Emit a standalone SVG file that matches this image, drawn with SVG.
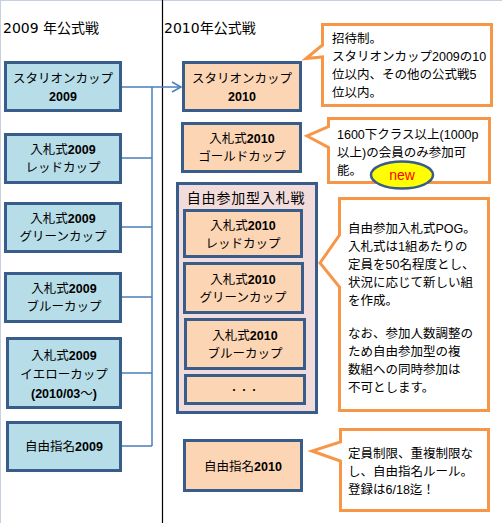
<svg xmlns="http://www.w3.org/2000/svg" width="502" height="523" viewBox="0 0 502 523">
<defs>
<style>
text{font-family:"Noto Sans CJK JP","Liberation Sans",sans-serif;font-size:12.5px;fill:#000}
.c{text-anchor:middle}
.d{font-family:"Liberation Sans","Noto Sans CJK JP",sans-serif;font-weight:bold;font-size:12.5px}
.n{font-family:"Liberation Sans","Noto Sans CJK JP",sans-serif;font-size:12.5px}
.h{font-family:"DejaVu Sans","Noto Sans CJK JP",sans-serif;font-size:14px}
.blue{fill:#b7dde8;stroke:#385d8a;stroke-width:3}
.org{fill:#fcd5b4;stroke:#385d8a;stroke-width:3}
.call{fill:#fff;stroke:#f79646;stroke-width:3;stroke-linejoin:miter}
.conn{fill:none;stroke:#4a7ebb;stroke-width:1.5}
</style>
<marker id="arr" markerWidth="12" markerHeight="12" refX="10" refY="6" orient="auto" markerUnits="userSpaceOnUse">
<path d="M1,1 L10,6 L1,11" fill="none" stroke="#4a7ebb" stroke-width="1.5"/>
</marker>
</defs>
<rect width="502" height="523" fill="#fff"/>
<line x1="0" y1="0.5" x2="502" y2="0.5" stroke="#c6d0de"/>
<line x1="0.5" y1="0" x2="0.5" y2="523" stroke="#c6d0de"/>
<line x1="162.5" y1="0" x2="162.5" y2="523" stroke="#000" stroke-width="1.2"/>

<text class="h" x="3" y="33">2009 年公式戦</text>
<text class="h" x="164" y="33">2010年公式戦</text>

<g id="connectors">
<path class="conn" d="M122,87 H152 M122,158 H152 M122,227 H152 M122,297 H152 M122,373 H152 M122,446 H152 M152,87 V446"/>
<path class="conn" d="M152,87 H181" marker-end="url(#arr)"/>
</g>

<g id="l1"><rect class="blue" x="5.5" y="62.5" width="115" height="48"/>
<text class="c" x="63" y="83">スタリオンカップ</text><text class="c d" x="63" y="101">2009</text></g>
<g id="l2"><rect class="blue" x="5.5" y="134.5" width="115" height="48"/>
<text class="c" x="63" y="154">入札式<tspan class="d">2009</tspan></text><text class="c" x="63" y="172">レッドカップ</text></g>
<g id="l3"><rect class="blue" x="5.5" y="203.5" width="115" height="48"/>
<text class="c" x="63" y="223">入札式<tspan class="d">2009</tspan></text><text class="c" x="63" y="241">グリーンカップ</text></g>
<g id="l4"><rect class="blue" x="5.5" y="273.5" width="115" height="48"/>
<text class="c" x="64" y="293">入札式<tspan class="d">2009</tspan></text><text class="c" x="64" y="311">ブルーカップ</text></g>
<g id="l5"><rect class="blue" x="7.5" y="338.5" width="113" height="69"/>
<text class="c" x="64" y="360">入札式<tspan class="d">2009</tspan></text><text class="c" x="64" y="379">イエローカップ</text><text class="c d" x="64" y="398">(2010/03<tspan font-family="Noto Sans CJK JP" font-weight="normal">〜</tspan>)</text></g>
<g id="l6"><rect class="blue" x="7.5" y="422.5" width="113" height="48"/>
<text class="c" x="64" y="451">自由指名<tspan class="d">2009</tspan></text></g>

<g id="r1"><rect class="org" x="183.5" y="62.5" width="117" height="48"/>
<text class="c" x="242" y="83">スタリオンカップ</text><text class="c d" x="242" y="101">2010</text></g>
<g id="c1"><path class="call" d="M322.5,24.5 H491.5 V105.5 H322.5 V57 L306,58.5 L322.5,45 Z"/>
<text x="332" y="43">招待制。</text>
<text x="332" y="61">スタリオンカップ<tspan class="n">2009</tspan>の<tspan class="n">10</tspan></text>
<text x="332" y="79">位以内、その他の公式戦<tspan class="n">5</tspan></text>
<text x="332" y="97">位以内。</text></g>

<g id="r2"><rect class="org" x="182.5" y="123.5" width="118" height="48"/>
<text class="c" x="242" y="143">入札式<tspan class="d">2010</tspan></text><text class="c" x="242" y="161">ゴールドカップ</text></g>
<g id="c2"><path class="call" d="M328.5,118.5 H489.5 V182.5 H328.5 V147.5 L307,136 L328.5,126.5 Z"/>
<text x="337" y="139"><tspan class="n">1600</tspan>下クラス以上<tspan class="n">(1000p</tspan></text>
<text x="337" y="157">以上<tspan class="n">)</tspan>の会員のみ参加可</text>
<text x="337" y="175">能。</text></g>
<g id="new"><ellipse cx="402" cy="175" rx="31" ry="13.5" fill="#ffff00" stroke="#385d8a" stroke-width="2.5"/>
<text class="c n" x="402" y="180" style="fill:#ff0000;font-size:14px">new</text></g>

<g id="grp"><rect x="177.5" y="183.5" width="139" height="229" fill="#f2dcdb" stroke="#385d8a" stroke-width="3"/>
<text class="c" x="246" y="203" style="font-size:14px;letter-spacing:0.8px">自由参加型入札戦</text></g>
<g id="g1"><rect class="org" x="184.5" y="210.5" width="117" height="46"/>
<text class="c" x="243" y="230">入札式<tspan class="d">2010</tspan></text><text class="c" x="243" y="248">レッドカップ</text></g>
<g id="g2"><rect class="org" x="184.5" y="263.5" width="118" height="49"/>
<text class="c" x="243" y="284">入札式<tspan class="d">2010</tspan></text><text class="c" x="243" y="302">グリーンカップ</text></g>
<g id="g3"><rect class="org" x="185.5" y="319.5" width="119" height="49"/>
<text class="c" x="245" y="340">入札式<tspan class="d">2010</tspan></text><text class="c" x="245" y="358">ブルーカップ</text></g>
<g id="g4"><rect class="org" x="185.5" y="375.5" width="119" height="28"/>
<text class="c" x="244" y="394" style="font-size:10px">・・・</text></g>

<g id="c3"><path class="call" d="M339.5,198.5 H488.5 V410.5 H339.5 V287 L320,263 L339.5,235 Z"/>
<text x="348" y="233">自由参加入札式<tspan class="n">POG</tspan>。</text>
<text x="348" y="251">入札式は<tspan class="n">1</tspan>組あたりの</text>
<text x="348" y="269">定員を<tspan class="n">50</tspan>名程度とし、</text>
<text x="348" y="287">状況に応じて新しい組</text>
<text x="348" y="305">を作成。</text>
<text x="348" y="338">なお、参加人数調整の</text>
<text x="348" y="356">ため自由参加型の複</text>
<text x="348" y="374">数組への同時参加は</text>
<text x="348" y="392">不可とします。</text></g>

<g id="r3"><rect class="org" x="184.5" y="440.5" width="117" height="50"/>
<text class="c" x="243" y="471">自由指名<tspan class="d">2010</tspan></text></g>
<g id="c4"><path class="call" d="M340.5,429.5 H488.5 V510.5 H340.5 V461 L312,451 L340.5,442 Z"/>
<text x="348" y="458">定員制限、重複制限な</text>
<text x="348" y="476">し、自由指名ルール。</text>
<text x="348" y="494">登録は<tspan class="n">6/18</tspan>迄！</text></g>
</svg>
